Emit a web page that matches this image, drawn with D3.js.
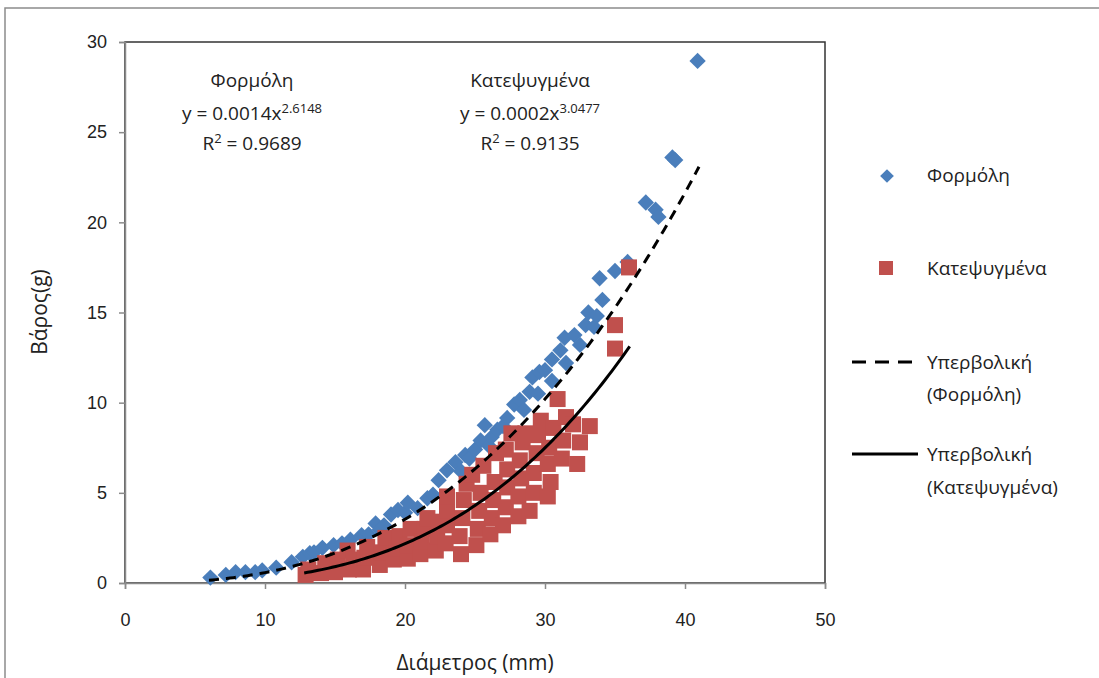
<!DOCTYPE html>
<html>
<head>
<meta charset="utf-8">
<script src="https://cdn.jsdelivr.net/npm/d3@7"></script>
<style>
  body { margin: 0; background: #fff; }
  svg text { font-family: "Open Sans", "Noto Sans", sans-serif; fill: #222; }
</style>
</head>
<body>
<svg id="chart"></svg>
<script>
// Φορμόλη (diameter mm, weight g)
var formolDiam = [6.1, 7.2, 7.9, 8.6, 9.3, 9.8, 10.8, 11.9, 12.7, 13.2, 13.5, 14.1, 14.9, 15.5, 16.1, 16.9, 17.4, 17.9, 18.2,
  18.5, 19.0, 19.5, 20.0, 20.2, 20.9, 21.6, 22.0, 22.4, 23.0, 23.6, 24.0, 24.3, 24.6, 25.0, 25.4, 25.7, 26.0, 26.2, 26.6,
  27.0, 27.3, 27.8, 28.2, 28.5, 28.9, 29.1, 29.5, 29.6, 30.0, 30.5, 30.5, 31.1, 31.4, 31.5, 32.1, 32.5, 32.9, 33.1,
  33.5, 33.7, 33.9, 34.1, 35.0, 35.9, 37.2, 37.9, 38.1, 39.1, 39.3, 40.9];
var formolWeight = [0.3, 0.45, 0.6, 0.6, 0.6, 0.7, 0.85, 1.15, 1.45, 1.65, 1.7, 1.95, 2.1, 2.2, 2.4, 2.65, 2.7, 3.3, 2.95,
  3.2, 3.8, 4.05, 3.9, 4.45, 4.15, 4.7, 4.9, 5.7, 6.25, 6.7, 6.2, 7.1, 6.9, 7.4, 7.9, 8.75, 7.6, 8.1, 8.5,
  8.7, 9.15, 9.9, 10.15, 9.6, 10.6, 11.4, 10.5, 11.7, 11.8, 12.4, 11.2, 12.9, 13.6, 12.2, 13.75, 13.2, 14.3, 15.0,
  14.2, 14.8, 16.9, 15.7, 17.3, 17.8, 21.1, 20.7, 20.3, 23.6, 23.45, 28.95];

// Κατεψυγμένα (diameter mm, weight g)
var frozenDiam = [12.9, 13.1, 14.0, 14.3, 15.0, 15.2, 16.0, 15.9, 16.3, 17.0, 17.1, 17.3, 18.2, 18.3, 18.6,
  19.2, 19.4, 19.6, 20.2, 20.2, 20.4, 21.1, 21.2, 21.4, 21.6, 22.2, 22.3, 22.4, 22.9, 23.0, 23.0, 23.0,
  24.0, 23.9, 24.1, 24.2, 24.4, 24.8, 25.1, 25.2, 25.3, 25.4, 25.6, 26.1, 26.2, 26.3, 26.4, 26.5,
  27.0, 27.2, 27.3, 27.3, 27.2, 27.6, 28.1, 28.1, 28.3, 28.2, 28.4, 28.6, 28.9, 29.2, 29.2, 29.4, 29.5, 29.7,
  30.2, 30.4, 30.2, 30.3, 30.6, 30.9, 31.2, 31.3, 31.5, 32.3, 32.5, 32.0, 33.2, 35.0, 35.0, 36.0];
var frozenWeight = [0.45, 0.75, 0.55, 1.1, 0.6, 1.3, 0.75, 1.8, 1.3, 0.75, 1.4, 2.0, 1.0, 1.7, 2.5,
  1.3, 1.9, 2.6, 1.35, 2.1, 3.0, 1.6, 2.3, 3.0, 3.6, 1.8, 2.6, 3.4, 2.2, 3.2, 4.0, 4.8,
  1.6, 2.6, 3.6, 4.6, 5.5, 6.0, 2.1, 3.0, 4.0, 5.0, 6.5, 2.7, 3.6, 4.6, 5.6, 7.2,
  3.2, 4.2, 5.3, 6.3, 7.4, 8.3, 3.7, 4.8, 5.8, 6.8, 7.8, 8.3, 4.0, 5.0, 6.1, 7.2, 8.2, 9.0,
  4.8, 5.6, 6.6, 7.5, 8.6, 10.2, 6.9, 7.9, 9.2, 6.6, 7.8, 8.8, 8.7, 14.3, 13.0, 17.5];

// power trendlines y = a * x^b
var formolFit = { a: 0.0014, b: 2.6148, from: 6.0, to: 41.0 };
var frozenFit = { a: 0.000236, b: 3.0477, from: 12.8, to: 36.2 };

var xTicks = [0, 10, 20, 30, 40, 50];
var yTicks = [0, 5, 10, 15, 20, 25, 30];

var width = 1099, height = 678;
var margin = { top: 42, right: 274, bottom: 95, left: 125 };

var svg = d3.select("#chart").attr("width", width).attr("height", height);

// outer chart frame
svg.append("rect")
  .attr("x", 5).attr("y", 8)
  .attr("width", 1100).attr("height", 700)
  .attr("fill", "#fff")
  .attr("stroke", "#8c8c8c")
  .attr("stroke-width", 1.5);

var x = d3.scaleLinear().domain([0, 50]).range([margin.left, width - margin.right]);
var y = d3.scaleLinear().domain([0, 30]).range([height - margin.bottom, margin.top]);

// plot area box
svg.append("rect")
  .attr("x", x(0)).attr("y", y(30))
  .attr("width", x(50) - x(0)).attr("height", y(0) - y(30))
  .attr("fill", "none")
  .attr("stroke", "#333")
  .attr("stroke-width", 1.5);

var xAxis = svg.append("g")
  .attr("transform", "translate(0," + y(0) + ")")
  .call(d3.axisBottom(x).tickValues(xTicks).tickSize(6).tickPadding(24));
var yAxis = svg.append("g")
  .attr("transform", "translate(" + x(0) + ",0)")
  .call(d3.axisLeft(y).tickValues(yTicks).tickSize(6).tickPadding(12));

[xAxis, yAxis].forEach(function(g) {
  g.select(".domain").attr("stroke", "#8a8a8a").attr("stroke-width", 1.5);
  g.selectAll(".tick line").attr("stroke", "#8a8a8a").attr("stroke-width", 1.5);
  g.selectAll(".tick text")
    .style("font-family", "'Liberation Sans', Arial, sans-serif")
    .style("font-size", "18px")
    .attr("fill", "#222");
});

// axis titles
svg.append("text")
  .attr("x", 475).attr("y", 670)
  .attr("text-anchor", "middle")
  .style("font-size", "21px")
  .text("Διάμετρος (mm)");
svg.append("text")
  .attr("transform", "translate(47," + 312 + ") rotate(-90)")
  .attr("text-anchor", "middle")
  .style("font-size", "21px")
  .text("Βάρος(g)");

// points
var formol = formolDiam.map(function(d, i) { return { d: d, w: formolWeight[i] }; });
var frozen = frozenDiam.map(function(d, i) { return { d: d, w: frozenWeight[i] }; });

var blue = "#4a7ebb", red = "#c0504d";

svg.append("g").selectAll("path")
  .data(formol)
  .join("path")
  .attr("d", d3.symbol(d3.symbolDiamond2, 170))
  .attr("transform", function(p) { return "translate(" + x(p.d) + "," + y(p.w) + ")"; })
  .attr("fill", blue);

svg.append("g").selectAll("rect")
  .data(frozen)
  .join("rect")
  .attr("x", function(p) { return x(p.d) - 8; })
  .attr("y", function(p) { return y(p.w) - 8; })
  .attr("width", 16).attr("height", 16)
  .attr("fill", red);

// trendlines
function fitPoints(f) {
  return d3.range(f.from, f.to + 0.001, 0.25).map(function(d) { return { d: d, w: f.a * Math.pow(d, f.b) }; });
}
var line = d3.line()
  .x(function(p) { return x(p.d); })
  .y(function(p) { return y(p.w); });

svg.append("path")
  .datum(fitPoints(formolFit))
  .attr("fill", "none")
  .attr("stroke", "#000")
  .attr("stroke-width", 3)
  .attr("stroke-dasharray", "10,7")
  .attr("d", line);
svg.append("path")
  .datum(fitPoints(frozenFit))
  .attr("fill", "none")
  .attr("stroke", "#000")
  .attr("stroke-width", 3)
  .attr("d", line);

// equation labels
function eqLabel(cx, title, coef, expo, r2) {
  var g = svg.append("g").style("font-size", "19px");
  g.append("text").attr("x", cx).attr("y", 87).attr("text-anchor", "middle").text(title);
  var t = g.append("text").attr("x", cx).attr("y", 120).attr("text-anchor", "middle");
  t.append("tspan").text("y = " + coef + "x");
  t.append("tspan").attr("dy", -7).style("font-size", "13px").text(expo);
  var r = g.append("text").attr("x", cx).attr("y", 150).attr("text-anchor", "middle");
  r.append("tspan").text("R");
  r.append("tspan").attr("dy", -7).style("font-size", "13px").text("2");
  r.append("tspan").attr("dy", 7).text(" = " + r2);
}
eqLabel(252, "Φορμόλη", "0.0014", "2.6148", "0.9689");
eqLabel(530, "Κατεψυγμένα", "0.0002", "3.0477", "0.9135");

// legend
var lg = svg.append("g").style("font-size", "19px");
lg.append("path")
  .attr("d", d3.symbol(d3.symbolDiamond2, 120))
  .attr("transform", "translate(887,176)")
  .attr("fill", blue);
lg.append("text").attr("x", 927).attr("y", 182).text("Φορμόλη");
lg.append("rect").attr("x", 879).attr("y", 261).attr("width", 14).attr("height", 14).attr("fill", red);
lg.append("text").attr("x", 927).attr("y", 275).text("Κατεψυγμένα");
lg.append("line").attr("x1", 852).attr("x2", 918).attr("y1", 362).attr("y2", 362)
  .attr("stroke", "#000").attr("stroke-width", 3).attr("stroke-dasharray", "14,9");
lg.append("text").attr("x", 927).attr("y", 369).text("Υπερβολική");
lg.append("text").attr("x", 927).attr("y", 401).text("(Φορμόλη)");
lg.append("line").attr("x1", 852).attr("x2", 918).attr("y1", 454).attr("y2", 454)
  .attr("stroke", "#000").attr("stroke-width", 3);
lg.append("text").attr("x", 927).attr("y", 461).text("Υπερβολική");
lg.append("text").attr("x", 927).attr("y", 494).text("(Κατεψυγμένα)");
</script>
</body>
</html>
